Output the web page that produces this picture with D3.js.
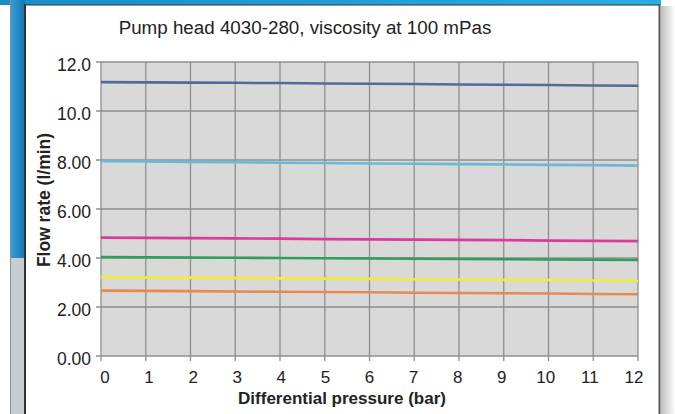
<!DOCTYPE html>
<html>
<head>
<meta charset="utf-8">
<script src="https://cdn.jsdelivr.net/npm/d3@7"></script>
<style>
html,body{margin:0;padding:0;background:#fff;}
svg{display:block;font-family:"Liberation Sans",Arial,sans-serif;}
</style>
</head>
<body>
<svg id="chart" width="675" height="414"></svg>
<script>
// ---- data ----
const titleText = "Pump head 4030-280, viscosity at 100 mPas";
const xAxisTitle = "Differential pressure (bar)";
const yAxisTitle = "Flow rate (l/min)";
const pressures = [0,1,2,3,4,5,6,7,8,9,10,11,12];
const xTickLabels = ["0","1","2","3","4","5","6","7","8","9","10","11","12"];
const yTicks = [0,2,4,6,8,10,12];
const yTickLabels = ["0.00","2.00","4.00","6.00","8.00","10.0","12.0"];
const seriesDarkBlue  = [11.18,11.17,11.16,11.15,11.14,11.12,11.11,11.10,11.08,11.07,11.06,11.04,11.03];
const seriesLightBlue = [7.95,7.94,7.92,7.91,7.89,7.88,7.86,7.85,7.83,7.82,7.80,7.79,7.77];
const seriesMagenta   = [4.83,4.82,4.81,4.80,4.79,4.77,4.76,4.75,4.74,4.73,4.71,4.70,4.69];
const seriesGreen     = [4.04,4.03,4.02,4.01,4.00,3.99,3.98,3.97,3.96,3.95,3.94,3.93,3.92];
const seriesYellow    = [3.22,3.21,3.20,3.18,3.17,3.16,3.15,3.13,3.12,3.11,3.10,3.08,3.07];
const seriesOrange    = [2.67,2.66,2.65,2.63,2.62,2.61,2.60,2.58,2.57,2.56,2.55,2.53,2.52];
const seriesList = [seriesDarkBlue, seriesLightBlue, seriesMagenta, seriesGreen, seriesYellow, seriesOrange];
const seriesColors = ["#4f6b98", "#6cb8d6", "#d93c9c", "#2f9e5c", "#eeee3a", "#e68a4e"];

// ---- drawing ----
const svg = d3.select("#chart");
const defs = svg.append("defs");

const gTop = defs.append("linearGradient").attr("id","gTop").attr("x1",0).attr("x2",1).attr("y1",0).attr("y2",0);
gTop.append("stop").attr("offset","0%").attr("stop-color","#1b8cc6");
gTop.append("stop").attr("offset","100%").attr("stop-color","#2aaee0");
const gStrip = defs.append("linearGradient").attr("id","gStrip").attr("x1",0).attr("x2",1).attr("y1",0).attr("y2",0);
gStrip.append("stop").attr("offset","0%").attr("stop-color","#3a9ed6");
gStrip.append("stop").attr("offset","100%").attr("stop-color","#1478b8");
const gShadow = defs.append("linearGradient").attr("id","gShadow").attr("x1",0).attr("x2",1).attr("y1",0).attr("y2",0);
gShadow.append("stop").attr("offset","0%").attr("stop-color","#bdbdbd");
gShadow.append("stop").attr("offset","100%").attr("stop-color","#ffffff");

// frame decorations
svg.append("rect").attr("x",661).attr("y",6).attr("width",14).attr("height",408).attr("fill","url(#gShadow)");
svg.append("rect").attr("x",0).attr("y",0).attr("width",661).attr("height",5).attr("fill","url(#gTop)");
svg.append("rect").attr("x",10).attr("y",0).attr("width",15).attr("height",258).attr("fill","url(#gStrip)");
svg.append("rect").attr("x",10).attr("y",258).attr("width",15).attr("height",156).attr("fill","#c9cdd0");
svg.append("line").attr("x1",10.5).attr("x2",10.5).attr("y1",0).attr("y2",414).attr("stroke","#8a8f94").attr("stroke-width",1);
svg.append("line").attr("x1",25).attr("x2",25).attr("y1",4).attr("y2",414).attr("stroke","#333").attr("stroke-width",2);
svg.append("line").attr("x1",25).attr("x2",660).attr("y1",5).attr("y2",5).attr("stroke","#333").attr("stroke-width",1.2);
svg.append("line").attr("x1",659.5).attr("x2",659.5).attr("y1",5).attr("y2",414).attr("stroke","#555").attr("stroke-width",2);

const x = d3.scaleLinear().domain([0,12]).range([101,638]);
const y = d3.scaleLinear().domain([0,12]).range([356,62]);
const xLabelScale = d3.scaleLinear().domain([0,12]).range([105,634]);

// plot background
svg.append("rect").attr("x",x(0)).attr("y",y(12)).attr("width",x(12)-x(0)).attr("height",y(0)-y(12)).attr("fill","#d9d9d9");

const gridColor = "#8e8e8e";
// vertical grid + x ticks
svg.append("g").selectAll("line").data(pressures).join("line")
  .attr("x1",d=>x(d)).attr("x2",d=>x(d)).attr("y1",y(12)).attr("y2",y(0)+5)
  .attr("stroke",gridColor).attr("stroke-width",1.3);
// horizontal grid + y ticks
svg.append("g").selectAll("line").data(yTicks).join("line")
  .attr("x1",x(0)-5).attr("x2",x(12)).attr("y1",d=>y(d)).attr("y2",d=>y(d))
  .attr("stroke",gridColor).attr("stroke-width",1.3);

// series lines
const line = d3.line().x((d,i)=>x(pressures[i])).y(d=>y(d));
svg.append("g").selectAll("path").data(seriesList).join("path")
  .attr("d",d=>line(d)).attr("fill","none")
  .attr("stroke",(d,i)=>seriesColors[i]).attr("stroke-width",2.6);

// y tick labels
svg.append("g").selectAll("text").data(yTicks).join("text")
  .attr("x",91).attr("y",d=>y(d)+3).attr("dy","0.35em")
  .attr("text-anchor","end").attr("font-size",17.5).attr("fill","#222")
  .text((d,i)=>yTickLabels[i]);

// x tick labels
svg.append("g").selectAll("text").data(pressures).join("text")
  .attr("x",d=>xLabelScale(d)).attr("y",383)
  .attr("text-anchor","middle").attr("font-size",17).attr("fill","#222")
  .text((d,i)=>xTickLabels[i]);

// titles
svg.append("text").attr("x",305).attr("y",34).attr("text-anchor","middle")
  .attr("font-size",18.8).attr("fill","#222").text(titleText);
svg.append("text").attr("x",342).attr("y",404).attr("text-anchor","middle")
  .attr("font-size",17).attr("font-weight","bold").attr("fill","#222").text(xAxisTitle);
svg.append("text").attr("transform","translate(50,200) rotate(-90)").attr("text-anchor","middle")
  .attr("font-size",17.5).attr("font-weight","bold").attr("fill","#222").text(yAxisTitle);
</script>
</body>
</html>
